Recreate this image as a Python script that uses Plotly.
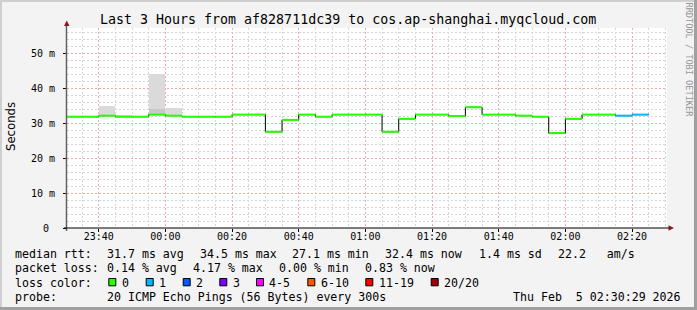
import plotly.graph_objects as go
from datetime import datetime, timedelta

# ---------------- data ----------------
bin_start_hm = ["23:30", "23:35", "23:40", "23:45", "23:50", "23:55",
                "00:00", "00:05", "00:10", "00:15", "00:20", "00:25",
                "00:30", "00:35", "00:40", "00:45", "00:50", "00:55",
                "01:00", "01:05", "01:10", "01:15", "01:20", "01:25",
                "01:30", "01:35", "01:40", "01:45", "01:50", "01:55",
                "02:00", "02:05", "02:10", "02:15", "02:20"]
median_ms = [31.8, 31.8, 32.1, 31.8, 31.8, 32.4,
             32.1, 31.8, 31.8, 31.8, 32.4, 32.4,
             27.5, 30.9, 32.4, 31.8, 32.4, 32.4,
             32.4, 27.5, 31.2, 32.4, 32.4, 32.0,
             34.5, 32.4, 32.4, 32.1, 31.8, 27.1,
             31.2, 32.4, 32.4, 32.1, 32.4]
loss_level = [0, 0, 0, 0, 0, 0,
              0, 0, 0, 0, 0, 0,
              0, 0, 0, 0, 0, 0,
              0, 0, 0, 0, 0, 0,
              0, 0, 0, 0, 0, 0,
              0, 0, 0, 1, 1]
smoke_max_ms = [None, None, 34.9, 32.3, None, 44.0,
                34.3, None, None, None, None, None,
                None, None, None, None, None, None,
                None, None, None, None, None, None,
                None, None, None, None, None, None,
                None, None, None, None, None]
smoke_dark_ms = [None, None, None, None, None, 34.0,
                 None, None, None, None, None, None,
                 None, None, None, None, None, None,
                 None, None, None, None, None, None,
                 None, None, None, None, None, None,
                 None, None, None, None, None]

loss_labels = ["0", "1", "2", "3", "4-5", "6-10", "11-19", "20/20"]
loss_colors = ["#26ff00", "#00b8ff", "#0059ff", "#7e00ff",
               "#ff00ff", "#ff5500", "#ff0000", "#a10000"]

y_tick_vals = [0, 10, 20, 30, 40, 50]
y_tick_text = ["0\u00a0", "10 m", "20 m", "30 m", "40 m", "50 m"]

title_text = "Last 3 Hours from af828711dc39 to cos.ap-shanghai.myqcloud.com"
rtt_label = "median rtt:"
rtt_stats = ["31.7 ms avg", "34.5 ms max", "27.1 ms min", "32.4 ms now",
             "1.4 ms sd", "22.2\u00a0\u00a0\u00a0am/s"]
loss_label = "packet loss:"
loss_stats = ["0.14 % avg", "4.17 % max", "0.00 % min", "0.83 % now"]
probe_text = "20 ICMP Echo Pings (56 Bytes) every 300s"
date_text = "Thu Feb\u00a0\u00a05 02:30:29 2026"

# ---------------- helpers ----------------
W, H = 697, 310
L, R, T, B = 67, 667, 28, 228
Y_MAX = (B - T) / 3.5


def xp(px):
    return (px - L) / (R - L)


def yp(py):
    return (B - py) / (B - T)


def to_dt(hm):
    h, m = map(int, hm.split(":"))
    day = 4 if h >= 12 else 5
    return datetime(2026, 2, day, h, m)


starts = [to_dt(s) for s in bin_start_hm]
step = timedelta(minutes=5)
ends = [s + step for s in starts]

fig = go.Figure()

# smoke
light_h = [(m - v) if m is not None else None for m, v in zip(smoke_max_ms, median_ms)]
dark_h = [(d - v) if d is not None else None for d, v in zip(smoke_dark_ms, median_ms)]
fig.add_trace(go.Bar(x=starts, y=light_h, base=median_ms, width=300000, offset=0,
                     marker=dict(color="#dadada", line=dict(width=0)),
                     hoverinfo="skip", showlegend=False))
fig.add_trace(go.Bar(x=starts, y=dark_h, base=median_ms, width=300000, offset=0,
                     marker=dict(color="#c8c8c8", line=dict(width=0)),
                     hoverinfo="skip", showlegend=False))

# black step line
fig.add_trace(go.Scatter(x=starts + [ends[-1]], y=median_ms + [median_ms[-1]],
                         mode="lines", line=dict(color="#000000", width=1, shape="hv"),
                         hoverinfo="skip", showlegend=False))

# colored median segments
for lvl, col in enumerate(loss_colors):
    xs, ys = [], []
    for s, e, v, l in zip(starts, ends, median_ms, loss_level):
        if l == lvl:
            xs += [s, e, None]
            ys += [v, v, None]
    if xs:
        fig.add_trace(go.Scatter(x=xs, y=ys, mode="lines",
                                 line=dict(color=col, width=2),
                                 hoverinfo="skip", showlegend=False))

mono = "DejaVu Sans Mono"
GRID_MAJOR = "#f0a8a8"
GRID_MINOR = "#d6d6d6"

fig.update_layout(
    width=W, height=H, autosize=False,
    margin=dict(l=L, r=W - R, t=T, b=H - B, pad=0),
    paper_bgcolor="#f3f3f3", plot_bgcolor="#ffffff",
    barmode="overlay", bargap=0,
    showlegend=False,
    font=dict(family=mono, size=10, color="#000000"),
    xaxis=dict(
        type="date",
        range=[datetime(2026, 2, 4, 23, 30, 29), datetime(2026, 2, 5, 2, 30, 29)],
        tick0="2026-02-04 23:40:00", dtick=1200000, tickformat="%H:%M",
        showgrid=True, gridcolor=GRID_MAJOR, gridwidth=1, griddash="2px,2px",
        ticks="outside", ticklen=3, tickcolor="#000000", tickwidth=1,
        ticklabelstandoff=-4,
        tickfont=dict(family=mono, size=10, color="#000000"),
        zeroline=False, showline=False, fixedrange=True,
        minor=dict(dtick=300000, tick0="2026-02-04 23:40:00", showgrid=True,
                   gridcolor=GRID_MINOR, gridwidth=1, griddash="2px,2px",
                   ticks="", ticklen=0),
    ),
    yaxis=dict(
        range=[0, Y_MAX],
        tickmode="array", tickvals=y_tick_vals, ticktext=y_tick_text,
        showgrid=True, gridcolor=GRID_MAJOR, gridwidth=1, griddash="2px,2px",
        ticks="outside", ticklen=3, tickcolor="#000000", tickwidth=1,
        ticklabelstandoff=6,
        tickfont=dict(family=mono, size=10, color="#000000"),
        zeroline=False, showline=False, fixedrange=True,
        minor=dict(dtick=2, tick0=0, showgrid=True, gridcolor=GRID_MINOR,
                   gridwidth=1, griddash="2px,2px"),
    ),
)

shapes = []
# frame (3D look)
shapes.append(dict(type="rect", xref="paper", yref="paper",
                   x0=xp(0), x1=xp(W), y0=yp(0), y1=yp(2),
                   fillcolor="#cfcfcf", line=dict(width=0), layer="above"))
shapes.append(dict(type="rect", xref="paper", yref="paper",
                   x0=xp(0), x1=xp(2), y0=yp(0), y1=yp(H),
                   fillcolor="#cfcfcf", line=dict(width=0), layer="above"))
shapes.append(dict(type="rect", xref="paper", yref="paper",
                   x0=xp(W - 3), x1=xp(W), y0=yp(0), y1=yp(H),
                   fillcolor="#a0a0a0", line=dict(width=0), layer="above"))
shapes.append(dict(type="rect", xref="paper", yref="paper",
                   x0=xp(0), x1=xp(W), y0=yp(H - 3), y1=yp(H),
                   fillcolor="#a0a0a0", line=dict(width=0), layer="above"))
# axes
shapes.append(dict(type="line", xref="paper", yref="paper",
                   x0=xp(66.5), x1=xp(66.5), y0=yp(231), y1=yp(25),
                   line=dict(color="#606060", width=1.5), layer="above"))
shapes.append(dict(type="line", xref="paper", yref="paper",
                   x0=xp(64), x1=xp(670), y0=yp(228), y1=yp(228),
                   line=dict(color="#000000", width=1.2), layer="above"))
# arrows
shapes.append(dict(type="path", xref="paper", yref="paper",
                   path=f"M {xp(64)} {yp(26)} L {xp(69.5)} {yp(26)} L {xp(66.75)} {yp(20.5)} Z",
                   fillcolor="#8b1a1a", line=dict(width=0), layer="above"))
shapes.append(dict(type="path", xref="paper", yref="paper",
                   path=f"M {xp(668.5)} {yp(225.2)} L {xp(668.5)} {yp(230.8)} L {xp(674)} {yp(228)} Z",
                   fillcolor="#8b1a1a", line=dict(width=0), layer="above"))

annotations = []


def text(px, py, s, size=11.6, anchor="left", family=mono, color="#000000", angle=0):
    annotations.append(dict(x=xp(px), y=yp(py), xref="paper", yref="paper",
                            text=s, showarrow=False, xanchor=anchor, yanchor="middle",
                            font=dict(family=family, size=size, color=color),
                            borderpad=0, borderwidth=0, textangle=angle))


# title
text(347.5, 19, title_text, size=13.3, anchor="center")
# y axis title
text(11, 127, "Seconds", size=11.7, anchor="center", family="DejaVu Sans", angle=-90)
# watermark
text(688.5, 60, "RRDTOOL / TOBI OETIKER", size=8.6, anchor="center", color="#989898", angle=90)

# legend rows
row1, row2, row3, row4 = 253.5, 268.3, 282.7, 297.0
text(15.2, row1, rtt_label)
for xpos, s in zip([106.5, 199.5, 291.5, 385.2, 478.5, 557.5], rtt_stats):
    text(xpos, row1, s)
text(15.2, row2, loss_label)
for xpos, s in zip([106.5, 192.5, 278.5, 364.5], loss_stats):
    text(xpos, row2, s)
text(15.2, row3, "loss color:")
box_left = [108.3, 145.7, 182.7, 219.3, 256.0, 307.3, 365.3, 430.7]
for bx, lab, col in zip(box_left, loss_labels, loss_colors):
    shapes.append(dict(type="rect", xref="paper", yref="paper",
                       x0=xp(bx + 0.5), x1=xp(bx + 7.5), y0=yp(278.5), y1=yp(285.8),
                       fillcolor=col, line=dict(color="#000000", width=1), layer="above"))
    text(bx + 13.2, row3, lab)
text(15.2, row4, "probe:")
text(106.5, row4, probe_text)
text(513, row4, date_text)

fig.update_layout(shapes=shapes, annotations=annotations)
fig.write_html("out.html")
